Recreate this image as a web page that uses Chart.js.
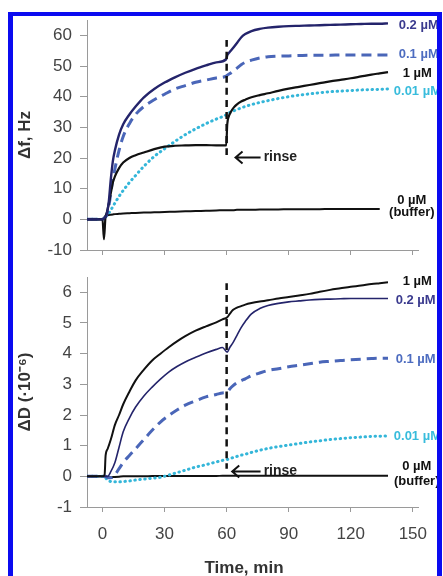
<!DOCTYPE html>
<html>
<head>
<meta charset="utf-8">
<title>QCM-D binding and rinse</title>
<script src="https://cdn.jsdelivr.net/npm/chart.js@4.4.1/dist/chart.umd.min.js"></script>
<style>
  html, body { margin: 0; padding: 0; background: #fff; }
  #page { position: relative; width: 443px; height: 576px; overflow: hidden; }
  #frame {
    position: absolute; left: 8px; top: 12px; width: 424px; height: 620px;
    border: 5px solid #0b0bf0; border-top-width: 4px; border-bottom: none;
    z-index: 2; pointer-events: none;
  }
  #freqChart { position: absolute; left: 0; top: 0; }
  #dissChart { position: absolute; left: 0; top: 262px; }
</style>
</head>
<body>
<div id="page">
  <canvas id="freqChart" width="443" height="262"></canvas>
  <canvas id="dissChart" width="443" height="314"></canvas>
  <div id="frame"></div>
</div>
<script>
// Time axis (min) and its tick labels
const timeTicks = [0, 30, 60, 90, 120, 150];
const freqTicks = [-10, 0, 10, 20, 30, 40, 50, 60];
const dissTicks = [-1, 0, 1, 2, 3, 4, 5, 6];

// Frequency shift, Hz
const tF = [-7.5, 0, 0.7, 1.4, 2, 3, 4, 5, 6, 8, 10, 13, 16, 20, 25, 30, 35, 40, 45, 50, 55, 59.8, 60.3, 61, 62, 63.5, 65, 67, 69, 72, 76, 80, 85, 90, 95, 100, 105, 110, 115, 120, 125, 130, 134, 138];
const f02 = [0, 0, 0.3, 0.8, 1.5, 5.5, 13, 19, 22.5, 27.6, 31, 34.2, 36.8, 39.8, 42.5, 44.6, 46.3, 47.8, 49.1, 50.2, 51.2, 52.2, 53.5, 54.2, 55, 56.2, 57.5, 59.3, 60.4, 61.4, 62.1, 62.5, 62.8, 63, 63.1, 63.2, 63.3, 63.4, 63.5, 63.6, 63.7, 63.8, 63.8, 63.9];
const f01 = [0, 0, 0.3, 0.8, 1.5, 4, 8.5, 13, 16.5, 22.5, 27, 31.2, 34.2, 36.8, 39, 40.8, 42.5, 43.6, 44.7, 45.4, 46.1, 46.7, 47, 47.3, 47.7, 48.5, 49.3, 50.4, 51.2, 51.9, 52.6, 53, 53.2, 53.3, 53.4, 53.5, 53.5, 53.5, 53.6, 53.6, 53.6, 53.6, 53.6, 53.6];
const f1 = [0, 0, -6.5, 0.5, 2, 5, 8.5, 12, 14, 16.7, 18.5, 20, 20.9, 21.8, 22.9, 23.7, 24, 24.1, 24.2, 24.2, 24.1, 24.1, 31, 33.5, 35, 36.5, 37.5, 38.4, 39, 39.8, 40.5, 41.1, 41.9, 42.6, 43.2, 43.8, 44.4, 45, 45.5, 46, 46.6, 47.2, 47.6, 48];
const f001 = [0, 0, 0.3, 0.8, 1.2, 2, 3, 4.2, 5.3, 7.5, 9.4, 12, 14.3, 17.3, 20.5, 23, 25.4, 27.6, 29.5, 31.2, 32.7, 34.1, 34.4, 34.6, 35, 35.4, 35.8, 36.3, 36.8, 37.4, 38.1, 38.7, 39.4, 40, 40.5, 40.9, 41.3, 41.6, 41.8, 42, 42.2, 42.3, 42.4, 42.5];
const f0 = [0, 0, 0.5, 1, 1.2, 1.4, 1.5, 1.6, 1.7, 1.8, 1.9, 2, 2.1, 2.2, 2.3, 2.4, 2.5, 2.6, 2.7, 2.8, 2.9, 3, 3, 3, 3, 3, 3.1, 3.1, 3.1, 3.1, 3.2, 3.2, 3.2, 3.3, 3.3, 3.3, 3.3, 3.4, 3.4, 3.4, 3.4, 3.4, 3.4, null];

// Dissipation shift, 1e-6
const tD = [-7.5, 0, 1, 1.5, 2.5, 4, 6, 8, 10, 13, 16, 20, 24, 28, 32, 36, 40, 45, 50, 55, 58, 60.3, 61.5, 63, 65, 67, 69, 72, 76, 80, 85, 90, 95, 100, 105, 110, 115, 120, 125, 130, 134, 138];
const d1 = [0, 0, 0.05, 0.68, 0.9, 1.2, 1.68, 2, 2.35, 2.76, 3.13, 3.48, 3.78, 4, 4.21, 4.4, 4.57, 4.75, 4.89, 5.02, 5.12, 5.19, 5.3, 5.42, 5.5, 5.55, 5.6, 5.65, 5.7, 5.74, 5.8, 5.85, 5.9, 5.95, 6.02, 6.08, 6.13, 6.18, 6.22, 6.27, 6.3, 6.33];
const d02 = [0, 0, 0, 0, 0, 0.15, 0.45, 0.95, 1.45, 1.9, 2.26, 2.62, 2.91, 3.17, 3.4, 3.58, 3.73, 3.88, 4.02, 4.14, 4.2, 4.05, 4.2, 4.35, 4.6, 4.85, 5.05, 5.3, 5.47, 5.57, 5.64, 5.69, 5.72, 5.75, 5.77, 5.78, 5.79, 5.8, 5.8, 5.8, 5.8, 5.8];
const d01 = [0, 0, 0, 0, -0.05, -0.05, 0.05, 0.25, 0.45, 0.68, 0.9, 1.2, 1.5, 1.77, 1.98, 2.16, 2.32, 2.46, 2.59, 2.67, 2.72, 2.75, 2.85, 2.95, 3.05, 3.12, 3.18, 3.28, 3.37, 3.45, 3.51, 3.57, 3.62, 3.67, 3.72, 3.75, 3.78, 3.8, 3.82, 3.84, 3.85, 3.85];
const d001 = [0, 0, 0, -0.05, -0.12, -0.17, -0.18, -0.18, -0.17, -0.15, -0.12, -0.09, -0.06, -0.03, 0.04, 0.12, 0.2, 0.3, 0.38, 0.47, 0.52, 0.55, 0.58, 0.61, 0.65, 0.69, 0.72, 0.78, 0.85, 0.91, 0.97, 1.02, 1.07, 1.12, 1.16, 1.2, 1.23, 1.26, 1.28, 1.3, 1.31, 1.32];
const d0 = [0, 0, 0, 0, -0.02, -0.03, -0.02, -0.01, 0, 0, 0, 0, 0.01, 0.01, 0.01, 0.01, 0.01, 0.01, 0.01, 0.01, 0.02, 0.02, 0.02, 0.02, 0.02, 0.02, 0.02, 0.02, 0.02, 0.02, 0.02, 0.02, 0.02, 0.02, 0.02, 0.02, 0.02, 0.02, 0.02, 0.02, 0.02, 0.02];

// Rinse marker at t = 60 min
const rinseTime = [60, 60];
const rinseF = [58.5, 20.5];
const rinseD = [6.3, 0.25];

const NAVY = '#24246b';
const MID_BLUE = '#4a66b8';
const CYAN = '#34b6d9';
const BLACK = '#111';
const AXIS_GREY = '#9a9a9a';
const TICK_GREY = '#444';
const FONT = "'Liberation Sans', Arial, sans-serif";

Chart.defaults.font.family = FONT;

function points(xs, ys) {
    return xs.map((x, i) => ({ x: x, y: ys[i] }));
}

function series(xs, ys, color, width, dash, cap) {
    return {
        data: points(xs, ys),
        borderColor: color,
        borderWidth: width,
        borderDash: dash || [],
        borderCapStyle: cap || 'butt',
        pointRadius: 0,
        cubicInterpolationMode: 'monotone',
        fill: false
    };
}

function axisX(showLabels, height) {
    return {
        type: 'linear',
        min: -7.5,
        max: 152.5,
        afterBuildTicks: s => { s.ticks = timeTicks.map(v => ({ value: v })); },
        afterFit: s => { s.height = height; s.paddingLeft = 0; s.paddingRight = 0; },
        grid: { drawOnChartArea: false, drawTicks: true, tickLength: 5, color: AXIS_GREY },
        border: { color: AXIS_GREY, width: 1 },
        ticks: { display: showLabels, autoSkip: false, maxRotation: 0, color: TICK_GREY, font: { size: 17 }, padding: 12 }
    };
}

function axisY(min, max, ticks, title) {
    return {
        type: 'linear',
        min: min,
        max: max,
        afterBuildTicks: s => { s.ticks = ticks.map(v => ({ value: v })); },
        afterFit: s => { s.width = 87; s.paddingTop = 0; s.paddingBottom = 0; },
        grid: { drawOnChartArea: false, drawTicks: true, tickLength: 7, color: AXIS_GREY },
        border: { color: AXIS_GREY, width: 1 },
        ticks: { color: TICK_GREY, font: { size: 17 }, padding: 8 },
        title: {
            display: true,
            text: title,
            color: '#333',
            font: { size: 17, weight: 'bold' },
            padding: { top: 15, bottom: 0 }
        }
    };
}

// Series labels, rinse arrow and axis caption
const annotate = {
    id: 'annotate',
    afterDatasetsDraw(chart, args, opts) {
        const { ctx } = chart;
        const x = chart.scales.x;
        const y = chart.scales.y;
        ctx.save();
        ctx.textBaseline = 'middle';
        opts.labels.forEach(l => {
            ctx.font = `bold ${l.size || 13}px ${FONT}`;
            ctx.fillStyle = l.color;
            ctx.textAlign = l.align || 'left';
            ctx.fillText(l.text, x.getPixelForValue(l.t), y.getPixelForValue(l.v));
        });

        const a = opts.arrow;
        const tip = x.getPixelForValue(a.tip);
        const tail = x.getPixelForValue(a.tail);
        const ay = y.getPixelForValue(a.v);
        ctx.strokeStyle = BLACK;
        ctx.lineWidth = 2;
        ctx.beginPath();
        ctx.moveTo(tail, ay);
        ctx.lineTo(tip, ay);
        ctx.moveTo(tip + 7, ay - 6);
        ctx.lineTo(tip, ay);
        ctx.lineTo(tip + 7, ay + 6);
        ctx.stroke();
        ctx.font = `bold 14px ${FONT}`;
        ctx.fillStyle = '#222';
        ctx.textAlign = 'left';
        ctx.fillText('rinse', x.getPixelForValue(a.text), ay);

        if (opts.caption) {
            ctx.font = `bold 17px ${FONT}`;
            ctx.fillStyle = '#333';
            ctx.textAlign = 'center';
            ctx.fillText(opts.caption, 244, chart.height - 8);
        }
        ctx.restore();
    }
};

const freqLabels = [
    { text: '0.2 µM', t: 143.2, v: 63.2, color: '#3a3a8e' },
    { text: '0.1 µM', t: 143.2, v: 53.7, color: '#4d6cc0' },
    { text: '1 µM', t: 145.1, v: 47.6, color: BLACK },
    { text: '0.01 µM', t: 140.8, v: 41.7, color: '#38bcdc' },
    { text: '0 µM', t: 149.5, v: 6.2, color: BLACK, align: 'center' },
    { text: '(buffer)', t: 149.5, v: 2.3, color: BLACK, align: 'center' }
];

const dissLabels = [
    { text: '1 µM', t: 145.1, v: 6.35, color: BLACK },
    { text: '0.2 µM', t: 141.7, v: 5.73, color: '#3a3a8e' },
    { text: '0.1 µM', t: 141.7, v: 3.81, color: '#4d6cc0' },
    { text: '0.01 µM', t: 140.8, v: 1.3, color: '#38bcdc' },
    { text: '0 µM', t: 151.9, v: 0.33, color: BLACK, align: 'center' },
    { text: '(buffer)', t: 151.9, v: -0.16, color: BLACK, align: 'center' }
];

new Chart(document.getElementById('freqChart'), {
    type: 'line',
    data: {
        datasets: [
            series(rinseTime, rinseF, BLACK, 2.5, [7, 5]),
            series(tF, f02, NAVY, 2.4),
            series(tF, f1, BLACK, 2.2),
            series(tF, f01, MID_BLUE, 3, [10, 6]),
            series(tF, f001, CYAN, 3, [0.5, 4.5], 'round'),
            series(tF, f0, BLACK, 2)
        ]
    },
    options: {
        responsive: false,
        animation: false,
        layout: { autoPadding: false, padding: { left: 0, right: 25, top: 20, bottom: 0 } },
        plugins: {
            legend: { display: false },
            tooltip: { enabled: false },
            annotate: { labels: freqLabels, arrow: { tip: 64.3, tail: 76.4, text: 77.9, v: 20.2 } }
        },
        scales: {
            x: axisX(false, 12),
            y: axisY(-10, 65, freqTicks, 'Δf, Hz')
        }
    },
    plugins: [annotate]
});

new Chart(document.getElementById('dissChart'), {
    type: 'line',
    data: {
        datasets: [
            series(rinseTime, rinseD, BLACK, 2.5, [7, 5]),
            series(tD, d1, BLACK, 2),
            series(tD, d02, NAVY, 1.6),
            series(tD, d01, MID_BLUE, 3, [10, 6]),
            series(tD, d001, CYAN, 3, [0.5, 4.5], 'round'),
            series(tD, d0, BLACK, 2)
        ]
    },
    options: {
        responsive: false,
        animation: false,
        layout: { autoPadding: false, padding: { left: 0, right: 25, top: 15, bottom: 0 } },
        plugins: {
            legend: { display: false },
            tooltip: { enabled: false },
            annotate: { labels: dissLabels, arrow: { tip: 62.7, tail: 76.4, text: 77.9, v: 0.16 }, caption: 'Time, min' }
        },
        scales: {
            x: axisX(true, 69),
            y: axisY(-1, 6.5, dissTicks, 'ΔD (·10⁻⁶)')
        }
    },
    plugins: [annotate]
});
</script>
</body>
</html>
